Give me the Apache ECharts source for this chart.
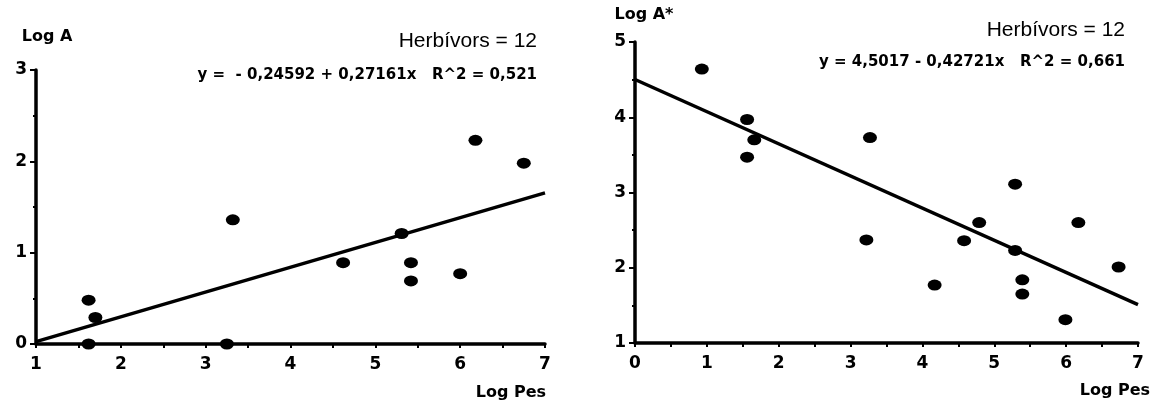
<!DOCTYPE html>
<html>
<head>
<meta charset="utf-8">
<script src="https://cdn.jsdelivr.net/npm/echarts@6/dist/echarts.min.js"></script>
<style>
  html, body { margin: 0; padding: 0; background: #fff; }
  #chart { width: 1156px; height: 405px; }
</style>
</head>
<body>
<div id="chart"></div>
<script>
// Panel 1: Log A against Log Pes
const pesA = [1.62, 1.70, 1.62, 3.25, 3.32, 4.62, 5.31, 5.42, 5.42, 6.00, 6.18, 6.75];
const logA = [0.48, 0.29, 0.00, 0.00, 1.36, 0.89, 1.21, 0.89, 0.69, 0.77, 2.23, 1.98];
const fitA = { intercept: -0.24592, slope: 0.27161 };
const eqA = 'y =  - 0,24592 + 0,27161x   R^2 = 0,521';

// Panel 2: Log A* against Log Pes
const pesB = [0.93, 1.56, 1.56, 1.66, 3.27, 3.22, 4.17, 4.58, 4.79, 5.29, 5.29, 5.39, 5.39, 5.99, 6.17, 6.73];
const logB = [4.64, 3.97, 3.47, 3.70, 3.73, 2.37, 1.77, 2.36, 2.60, 3.11, 2.23, 1.84, 1.65, 1.31, 2.60, 2.01];
const fitB = { intercept: 4.5017, slope: -0.42721 };
const eqB = 'y = 4,5017 - 0,42721x   R^2 = 0,661';

const countLabel = 'Herbívors = 12';
const xTitle = 'Log Pes';
const yTitleA = 'Log A';
const yTitleB = 'Log A*';

const xRangeA = [1, 7];
const yRangeA = [0, 3];
const xRangeB = [0, 7];
const yRangeB = [1, 5];

const pairs = (xs, ys) => xs.map((x, i) => [x, ys[i]]);
// regression line drawn from the stated intercept and slope, across the x range
const fitLine = (f, range) => range.map(x => [x, f.intercept + f.slope * x]);

const FONT = '"Liberation Sans", Arial, sans-serif';
const HEAVY = '"DejaVu Sans", sans-serif';
const INK = '#000';

function xAxisDef(idx, range) {
  return {
    gridIndex: idx, type: 'value', min: range[0], max: range[1], interval: 1,
    axisLine: { show: true, onZero: false, lineStyle: { color: INK, width: 3.5 } },
    axisTick: { show: true, length: 4, lineStyle: { color: INK, width: 2 } },
    minorTick: { show: true, splitNumber: 2, length: 4, lineStyle: { color: INK, width: 2 } },
    axisLabel: { color: INK, fontFamily: HEAVY, fontWeight: 'bold', fontSize: 17, margin: 12 },
    splitLine: { show: false }
  };
}
function yAxisDef(idx, range) {
  return {
    gridIndex: idx, type: 'value', min: range[0], max: range[1], interval: 1,
    axisLine: { show: true, onZero: false, lineStyle: { color: INK, width: 3.5 } },
    axisTick: { show: true, length: 6, lineStyle: { color: INK, width: 2 } },
    minorTick: { show: true, splitNumber: 2, length: 3, lineStyle: { color: INK, width: 2 } },
    axisLabel: { color: INK, fontFamily: HEAVY, fontWeight: 'bold', fontSize: 17, margin: 9 },
    splitLine: { show: false }
  };
}
function scatter(idx, data) {
  return {
    type: 'scatter', xAxisIndex: idx, yAxisIndex: idx, data: data,
    symbol: 'circle', symbolSize: [14, 11], clip: false,
    itemStyle: { color: INK, opacity: 1 }, z: 5
  };
}
function fit(idx, data) {
  return {
    type: 'line', xAxisIndex: idx, yAxisIndex: idx, data: data,
    showSymbol: false, lineStyle: { color: INK, width: 3.5 }, clip: false, z: 4
  };
}
function text(x, y, str, font, align) {
  return {
    type: 'text', x: x, y: y,
    style: { text: str, fill: INK, font: font,
             textAlign: align || 'left', textVerticalAlign: 'middle' }
  };
}

const chart = echarts.init(document.getElementById('chart'), null, { renderer: 'canvas' });
chart.setOption({
  backgroundColor: '#fff',
  animation: false,
  grid: [
    { left: 36, top: 70, width: 509, height: 274 },
    { left: 635, top: 42, width: 503, height: 301 }
  ],
  xAxis: [xAxisDef(0, xRangeA), xAxisDef(1, xRangeB)],
  yAxis: [yAxisDef(0, yRangeA), yAxisDef(1, yRangeB)],
  series: [
    fit(0, fitLine(fitA, xRangeA)),
    scatter(0, pairs(pesA, logA)),
    fit(1, fitLine(fitB, xRangeB)),
    scatter(1, pairs(pesB, logB))
  ],
  graphic: [
    text(47, 37, yTitleA, 'bold 16px ' + HEAVY, 'center'),
    text(644, 15, yTitleB, 'bold 16px ' + HEAVY, 'center'),
    text(537, 41, countLabel, '21px ' + FONT, 'right'),
    text(537, 75, eqA, 'bold 15px ' + HEAVY, 'right'),
    text(546, 393, xTitle, 'bold 16px ' + HEAVY, 'right'),
    text(1125, 30, countLabel, '21px ' + FONT, 'right'),
    text(1125, 62, eqB, 'bold 15px ' + HEAVY, 'right'),
    text(1150, 391, xTitle, 'bold 16px ' + HEAVY, 'right')
  ]
});
</script>
</body>
</html>
